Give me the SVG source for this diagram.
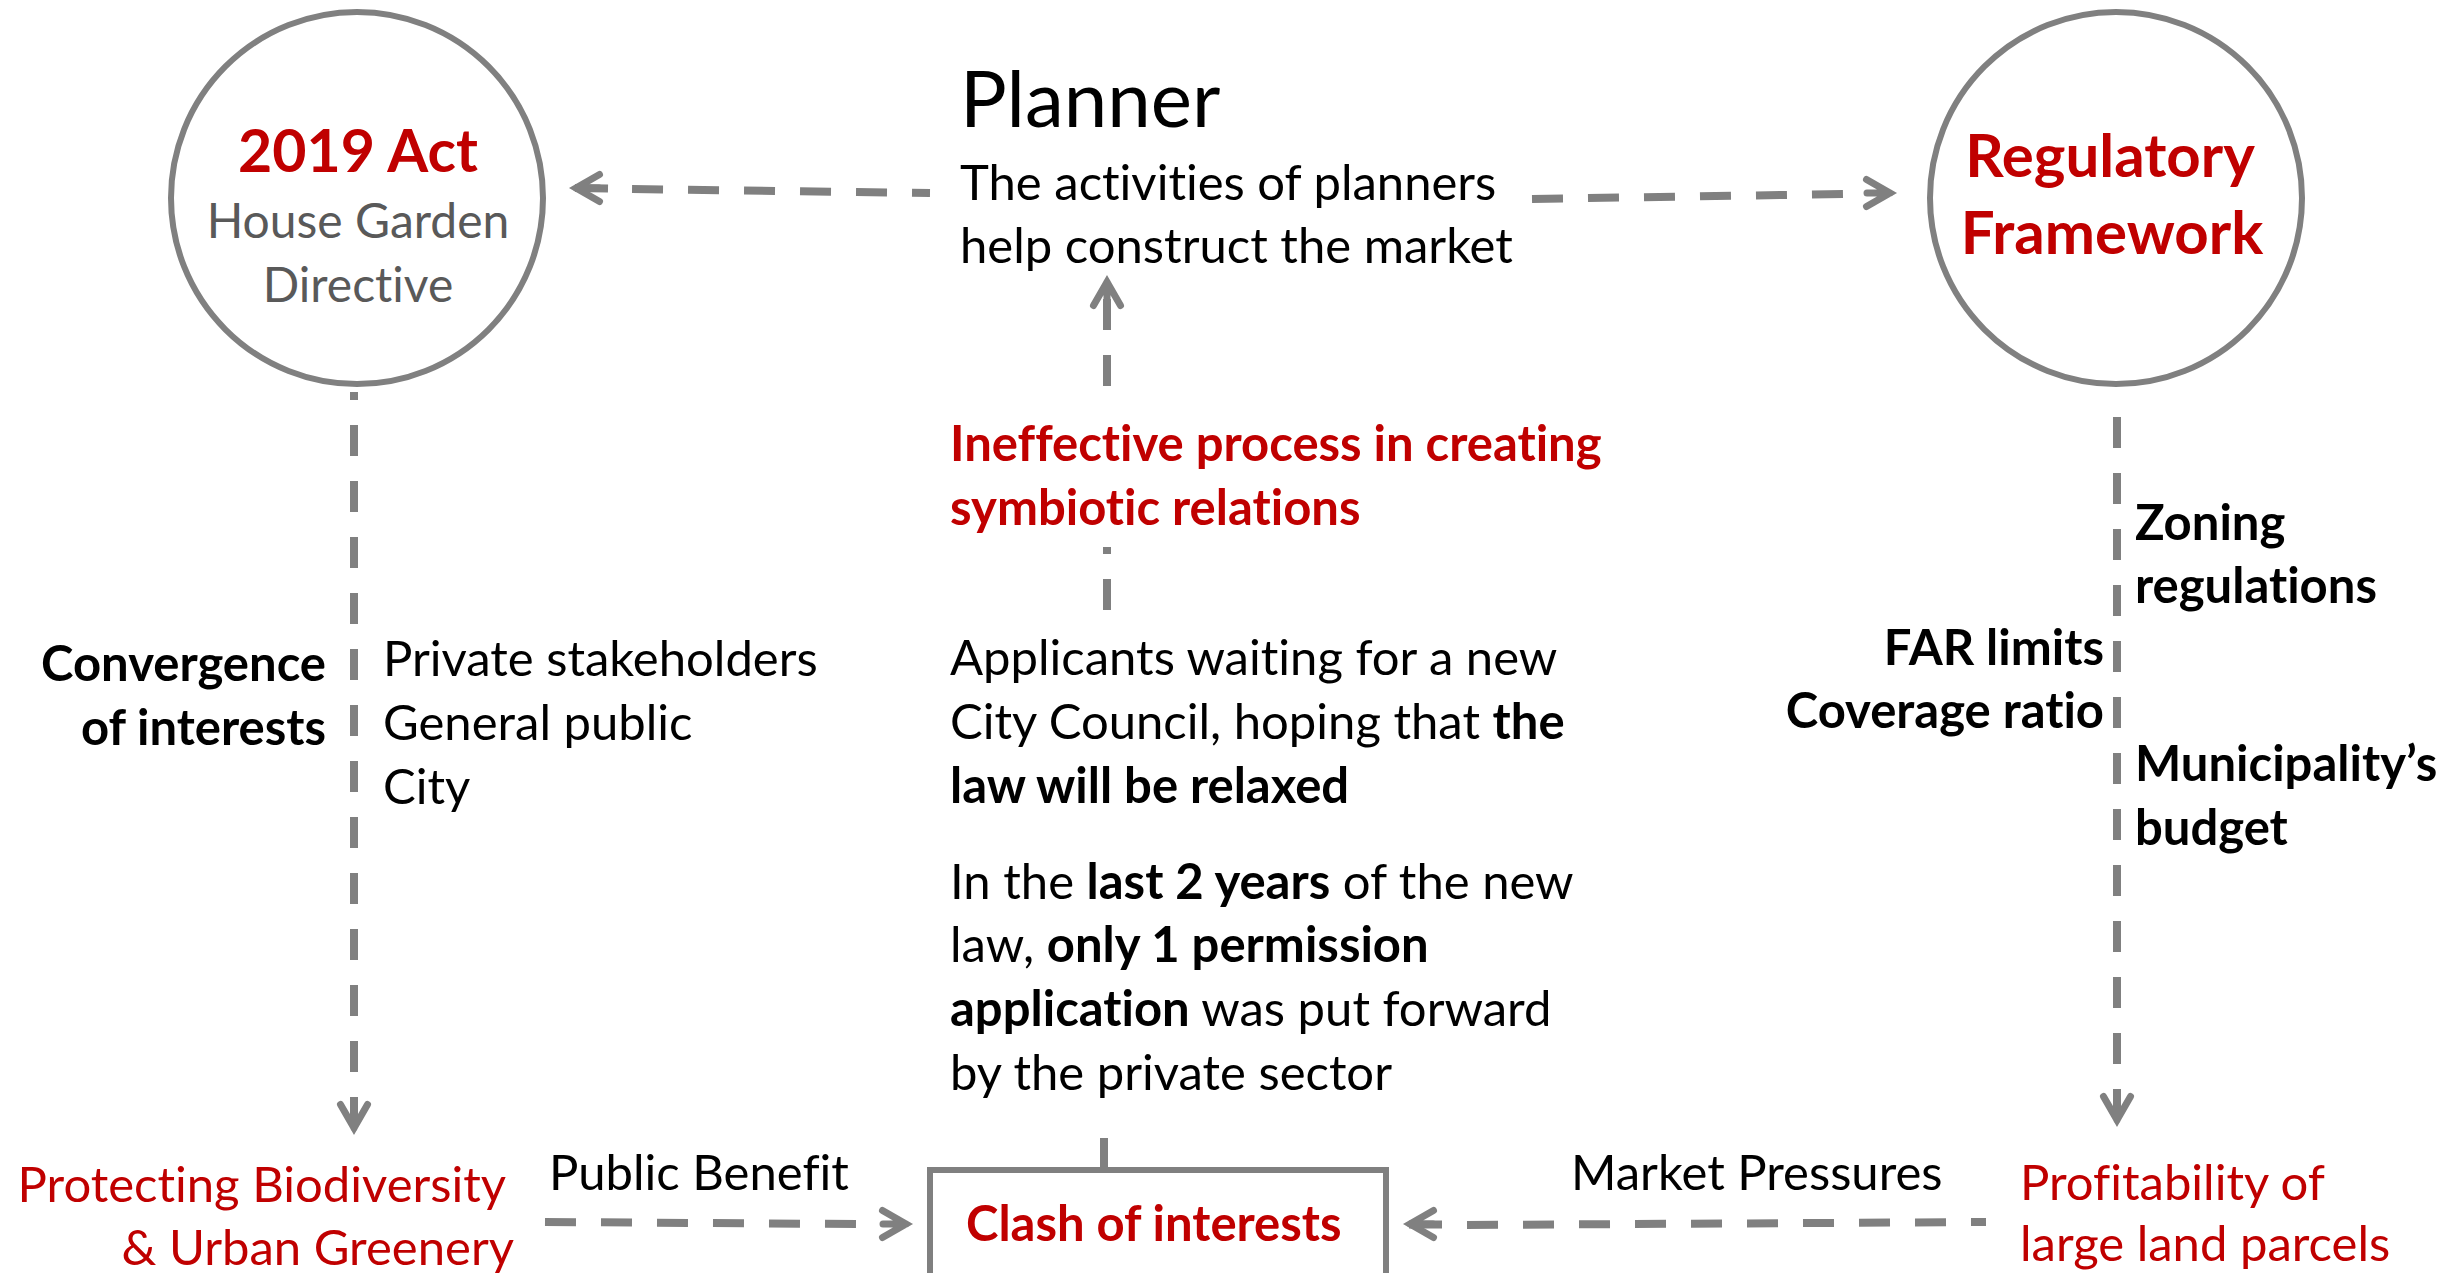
<svg xmlns="http://www.w3.org/2000/svg" xmlns:xlink="http://www.w3.org/1999/xlink" width="2463" height="1273" viewBox="0 0 2463 1273">
<style>
  text { font-family: Lato, "Open Sans", "Liberation Sans", sans-serif; font-variant-ligatures: none; font-feature-settings: "liga" 0, "dlig" 0; }
  .t { font-size: 49px; fill: #000; }
  .b { font-weight: 700; }
  .red { fill: #C00000; }
  .grey { fill: #595959; }
  .circ { fill: #fff; stroke: #808080; stroke-width: 6; }
  .box { fill: #fff; stroke: #808080; stroke-width: 6; }
  .dash { fill: none; stroke: #808080; stroke-width: 8; stroke-dasharray: 31 25; }
  .solid { fill: none; stroke: #808080; stroke-width: 8; }
  .ah { fill: none; stroke: #808080; stroke-width: 7; stroke-linecap: round; stroke-linejoin: miter; stroke-miterlimit: 10; }
</style>
<defs>
  <path id="ah" d="M-30.5,-13.5 L-7,0 L-30.5,13.5 M-7,0 L-30,0"/>
</defs>
<rect width="2463" height="1273" fill="#fff"/>

<g id="connectors">
  <!-- Planner -> 2019 Act -->
  <path class="dash" d="M930,193 L632,189" stroke-dashoffset="13"/>
  <path class="solid" d="M608,188.5 L575,188"/>
  <use xlink:href="#ah" class="ah" transform="translate(569,188) rotate(180)"/>
  <!-- Planner -> Regulatory Framework -->
  <path class="dash" d="M1532,199 L1846,194"/>
  <use xlink:href="#ah" class="ah" transform="translate(1897,193)"/>
  <!-- 2019 Act -> Protecting Biodiversity -->
  <path class="dash" d="M354,392 L354,1128" stroke-dashoffset="23"/>
  <use xlink:href="#ah" class="ah" transform="translate(354,1135) rotate(90)"/>
  <!-- Regulatory Framework -> Profitability -->
  <path class="dash" d="M2117,392 L2117,1120" stroke-dashoffset="31"/>
  <use xlink:href="#ah" class="ah" transform="translate(2117,1127) rotate(90)"/>
  <!-- Applicants -> Planner (through Ineffective process) -->
  <path class="dash" d="M1107,610 L1107,299"/>
  <use xlink:href="#ah" class="ah" transform="translate(1107,275) rotate(-90)"/>
  <!-- Protecting Biodiversity -> Clash -->
  <path class="dash" d="M545,1222 L857,1224"/>
  <use xlink:href="#ah" class="ah" transform="translate(913,1224)"/>
  <!-- Profitability -> Clash -->
  <path class="dash" d="M1986,1222 L1467,1225" stroke-dashoffset="16"/>
  <path class="solid" d="M1442,1224.5 L1409,1224.5"/>
  <use xlink:href="#ah" class="ah" transform="translate(1403,1224) rotate(180)"/>
  <!-- text block -> Clash box -->
  <path class="solid" d="M1104,1138 L1104,1170"/>
</g>

<g id="node-2019-act">
  <circle class="circ" cx="357" cy="198" r="186"/>
  <text class="t b red" x="358" y="172" text-anchor="middle" style="font-size:59px">2019 Act</text>
  <text class="t grey" x="358" y="238" text-anchor="middle" style="font-size:48px">House Garden</text>
  <text class="t grey" x="358" y="302" text-anchor="middle" style="font-size:48px">Directive</text>
</g>

<g id="node-regulatory-framework">
  <circle class="circ" cx="2116" cy="198" r="186"/>
  <text class="t b red" x="2110" y="177" text-anchor="middle" style="font-size:60px">Regulatory</text>
  <text class="t b red" x="2112" y="254" text-anchor="middle" style="font-size:60px">Framework</text>
</g>

<g id="node-planner">
  <text class="t" x="960" y="127" style="font-size:78px">Planner</text>
  <text class="t" x="960" y="200">The activities of planners</text>
  <text class="t" x="960" y="263">help construct the market</text>
</g>

<g id="node-ineffective">
  <rect x="940" y="392" width="690" height="155" fill="#fff"/>
  <text class="t b red" x="950" y="461">Ineffective process in creating</text>
  <text class="t b red" x="950" y="525">symbiotic relations</text>
</g>

<g id="node-applicants">
  <text class="t" x="950" y="675">Applicants waiting for a new</text>
  <text class="t" x="950" y="739">City Council, hoping that <tspan class="b">the</tspan></text>
  <text class="t b" x="950" y="803">law will be relaxed</text>
  <text class="t" x="950" y="899">In the <tspan class="b">last 2 years</tspan> of the new</text>
  <text class="t" x="950" y="962">law, <tspan class="b">only 1 permission</tspan></text>
  <text class="t" x="950" y="1026"><tspan class="b">application</tspan> was put forward</text>
  <text class="t" x="950" y="1090">by the private sector</text>
</g>

<g id="node-convergence">
  <text class="t b" x="326" y="681" text-anchor="end">Convergence</text>
  <text class="t b" x="326" y="745" text-anchor="end">of interests</text>
</g>

<g id="node-stakeholders">
  <text class="t" x="383" y="676">Private stakeholders</text>
  <text class="t" x="383" y="740">General public</text>
  <text class="t" x="383" y="804">City</text>
</g>

<g id="node-zoning">
  <text class="t b" x="2135" y="540">Zoning</text>
  <text class="t b" x="2135" y="603">regulations</text>
</g>

<g id="node-far">
  <text class="t b" x="2104" y="665" text-anchor="end">FAR limits</text>
  <text class="t b" x="2104" y="728" text-anchor="end">Coverage ratio</text>
</g>

<g id="node-budget">
  <text class="t b" x="2135" y="781">Municipality’s</text>
  <text class="t b" x="2135" y="845">budget</text>
</g>

<g id="node-biodiversity">
  <text class="t red" x="506" y="1202" text-anchor="end">Protecting Biodiversity</text>
  <text class="t red" x="514" y="1265" text-anchor="end">&amp; Urban Greenery</text>
</g>

<g id="label-public-benefit">
  <text class="t" x="549" y="1190">Public Benefit</text>
</g>

<g id="node-clash">
  <rect class="box" x="930" y="1170" width="456" height="130"/>
  <text class="t b red" x="966" y="1241">Clash of interests</text>
</g>

<g id="label-market-pressures">
  <text class="t" x="1571" y="1190">Market Pressures</text>
</g>

<g id="node-profitability">
  <text class="t red" x="2020" y="1200">Profitability of</text>
  <text class="t red" x="2020" y="1261">large land parcels</text>
</g>
</svg>
